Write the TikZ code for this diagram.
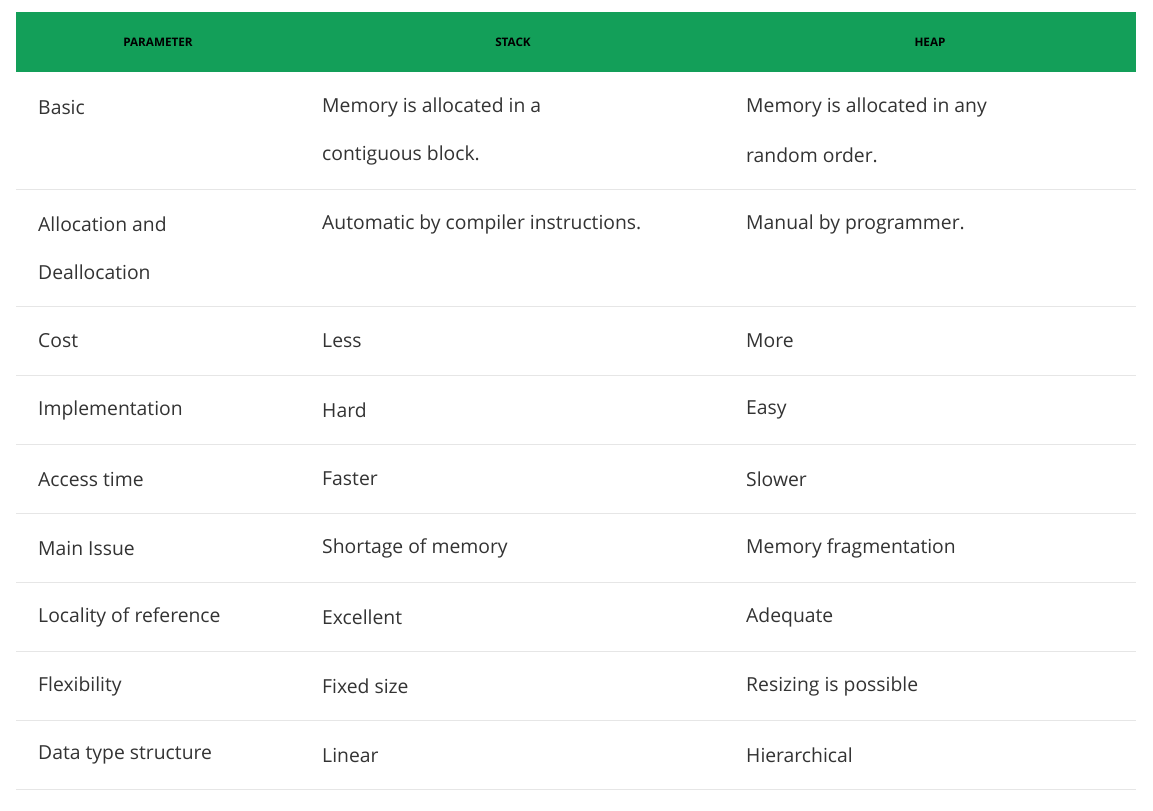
\documentclass[tikz,border=0pt]{standalone}
\usepackage{fontspec}
\setmainfont{Open Sans}
\definecolor{gfggreen}{HTML}{139F59}
\definecolor{celltext}{HTML}{333333}
\definecolor{rule}{HTML}{E6E6E6}
\begin{document}
\begin{tikzpicture}[x=0.03cm,y=-0.03cm,
    head/.style={font=\fontsize{10}{12}\selectfont\bfseries,text=black},
    cell/.style={anchor=west,inner sep=0pt,font=\fontsize{16.5}{20}\selectfont,text=celltext},
    sep/.style={draw=rule,line width=0.6pt}]
  \useasboundingbox (0,0) rectangle (1153,810);
  % header
  \fill[gfggreen] (16,12) rectangle (1136,72);
  \node[head] (hpar) at (158,42) {PARAMETER};
  \node[head] (hstack) at (513,42) {STACK};
  \node[head] (hheap) at (930,42) {HEAP};
  % two-line rows
  \node[cell] (basic) at (38,107) {Basic};
  \node[cell] (basicS) at (322,107) {Memory is allocated in a};
  \node[cell] (basicS2) at (322,155) {contiguous block.};
  \node[cell] (basicH) at (746,107) {Memory is allocated in any};
  \node[cell] (basicH2) at (746,155) {random order.};
  \draw[sep] (16,189) -- (1136,189);
  \node[cell] (alloc) at (38,224) {Allocation and};
  \node[cell] (alloc2) at (38,272) {Deallocation};
  \node[cell] (allocS) at (322,224) {Automatic by compiler instructions.};
  \node[cell] (allocH) at (746,224) {Manual by programmer.};
  \draw[sep] (16,306) -- (1136,306);
  % one-line rows
  \foreach \y/\p/\s/\h [count=\i] in {
      341/Cost/Less/More,
      410/Implementation/Hard/Easy,
      479/Access time/Faster/Slower,
      548/Main Issue/Shortage of memory/Memory fragmentation,
      617/Locality of reference/Excellent/Adequate,
      686/Flexibility/Fixed size/Resizing is possible,
      755/Data type structure/Linear/Hierarchical} {
    \node[cell] (par\i) at (38,\y) {\p};
    \node[cell] (stack\i) at (322,\y) {\s};
    \node[cell] (heap\i) at (746,\y) {\h};
    \draw[sep] (16,\y+34) -- (1136,\y+34);
  }
\end{tikzpicture}
\end{document}
